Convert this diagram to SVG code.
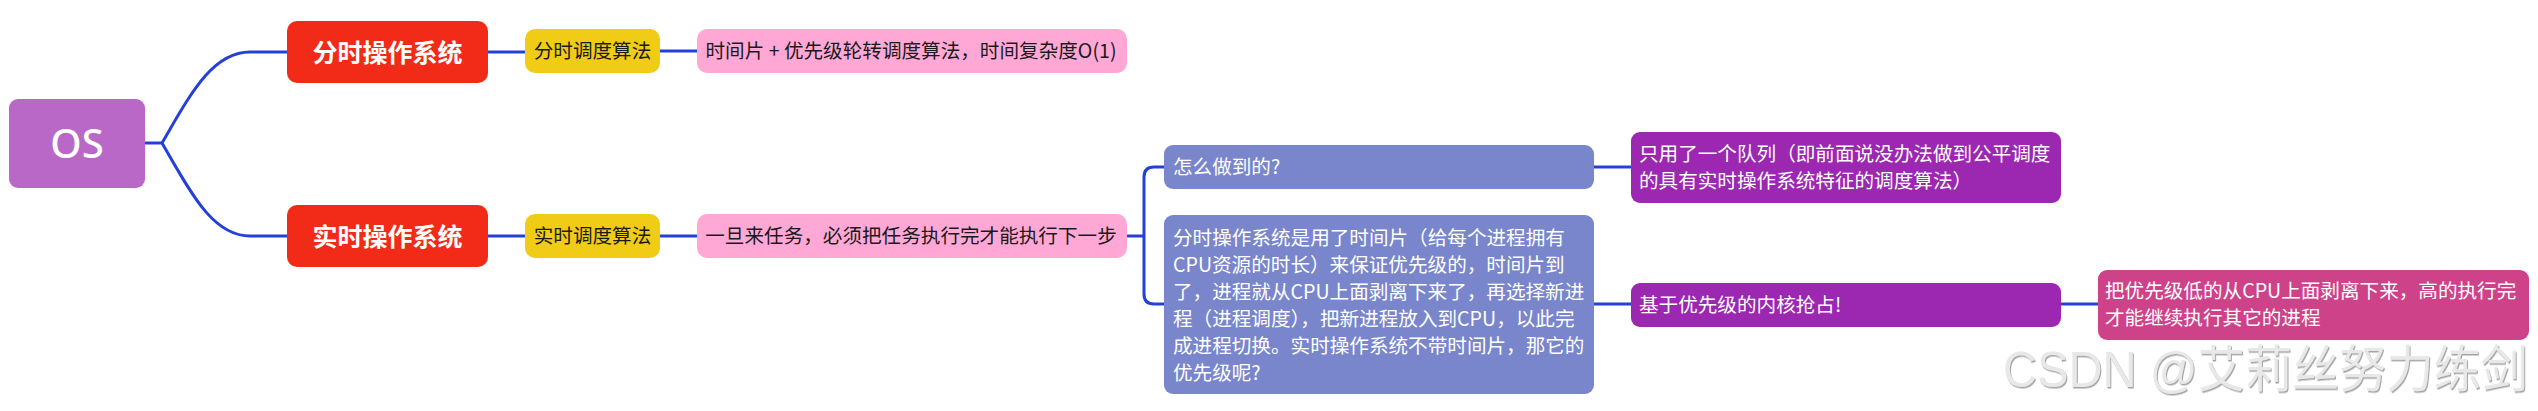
<svg xmlns="http://www.w3.org/2000/svg" width="2538" height="411" viewBox="0 0 2538 411">
<defs>
<style>
text{font-family:"Noto Sans CJK SC","Noto Sans",sans-serif;}
.t{font-size:19.6px;}
.w{fill:#ffffff;}
.d{fill:#1a1a1a;}
.h{font-size:25px;font-weight:700;fill:#ffffff;}
.ln{fill:none;stroke:#2440d9;stroke-width:3;}
</style>
<filter id="sh" x="-5%" y="-20%" width="110%" height="140%">
<feDropShadow dx="1" dy="1.5" stdDeviation="0.6" flood-color="#9a9a9a" flood-opacity="0.9"/>
</filter>
</defs>
<rect width="2538" height="411" fill="#ffffff"/>
<g id="connectors">
<path class="ln" d="M145,143 H162" stroke-width="4"/>
<path class="ln" d="M162,143 C190,95 212,52 250,52 H287"/>
<path class="ln" d="M162,143 C190,191 212,236 250,236 H287"/>
<path class="ln" d="M488,52 H525"/>
<path class="ln" d="M660,51 H697"/>
<path class="ln" d="M488,236 H525"/>
<path class="ln" d="M660,236 H697"/>
<path class="ln" d="M1127,236 H1144"/>
<path class="ln" d="M1164,167 H1154 Q1144,167 1144,177 V294 Q1144,304 1154,304 H1164"/>
<path class="ln" d="M1594,167 H1631"/>
<path class="ln" d="M1594,304 H1631"/>
<path class="ln" d="M2061,304 H2098"/>
</g>
<g id="os">
<rect x="9" y="99" width="136" height="89" rx="9" fill="#ba68c8"/>
<text x="77" y="158" text-anchor="middle" font-family="Noto Sans, sans-serif" font-size="40" font-weight="500" fill="#ffffff" style="font-family:'Noto Sans',sans-serif">OS</text>
</g>
<g id="fenshi">
<rect x="287" y="21" width="201" height="62" rx="10" fill="#f22b18"/>
<text class="h" x="387.5" y="61.5" text-anchor="middle">分时操作系统</text>
</g>
<g id="fenshi-alg">
<rect x="525" y="29" width="135" height="44" rx="10" fill="#f0cc17"/>
<text class="t d" x="592.5" y="58" text-anchor="middle">分时调度算法</text>
</g>
<g id="fenshi-desc">
<rect x="697" y="29" width="430" height="44" rx="10" fill="#ffa8d6"/>
<text class="t d" x="911" y="58" text-anchor="middle">时间片 + 优先级轮转调度算法，时间复杂度O(1)</text>
</g>
<g id="shishi">
<rect x="287" y="205" width="201" height="62" rx="10" fill="#f22b18"/>
<text class="h" x="387.5" y="245.5" text-anchor="middle">实时操作系统</text>
</g>
<g id="shishi-alg">
<rect x="525" y="214" width="135" height="44" rx="10" fill="#f0cc17"/>
<text class="t d" x="592.5" y="243" text-anchor="middle">实时调度算法</text>
</g>
<g id="shishi-desc">
<rect x="697" y="214" width="430" height="44" rx="10" fill="#ffa8d6"/>
<text class="t d" x="911" y="243" text-anchor="middle">一旦来任务，必须把任务执行完才能执行下一步</text>
</g>
<g id="how">
<rect x="1164" y="145" width="430" height="44" rx="9" fill="#7986cb"/>
<text class="t w" x="1173" y="174">怎么做到的?</text>
</g>
<g id="question">
<rect x="1164" y="215" width="430" height="179" rx="9" fill="#7986cb"/>
<text class="t w" x="1173" y="244.5">分时操作系统是用了时间片（给每个进程拥有</text>
<text class="t w" x="1173" y="271.5">CPU资源的时长）来保证优先级的，时间片到</text>
<text class="t w" x="1173" y="298.5">了，进程就从CPU上面剥离下来了，再选择新进</text>
<text class="t w" x="1173" y="325.5">程（进程调度），把新进程放入到CPU，以此完</text>
<text class="t w" x="1173" y="352.5">成进程切换。实时操作系统不带时间片，那它的</text>
<text class="t w" x="1173" y="379.5">优先级呢?</text>
</g>
<g id="one-queue">
<rect x="1631" y="132" width="430" height="71" rx="9" fill="#9c27b0"/>
<text class="t w" x="1639" y="161">只用了一个队列（即前面说没办法做到公平调度</text>
<text class="t w" x="1639" y="188">的具有实时操作系统特征的调度算法）</text>
</g>
<g id="preempt">
<rect x="1631" y="283" width="430" height="44" rx="9" fill="#9c27b0"/>
<text class="t w" x="1639" y="312">基于优先级的内核抢占!</text>
</g>
<g id="preempt-desc">
<rect x="2098" y="270" width="431" height="70" rx="9" fill="#ce4289"/>
<text class="t w" x="2105" y="298">把优先级低的从CPU上面剥离下来，高的执行完</text>
<text class="t w" x="2105" y="325">才能继续执行其它的进程</text>
</g>
<text x="2003" y="387" font-size="50" textLength="525" lengthAdjust="spacingAndGlyphs" fill="#e8e8e8" filter="url(#sh)" style="font-family:'Liberation Sans','Noto Sans CJK SC',sans-serif">CSDN @艾莉丝努力练剑</text>
</svg>
